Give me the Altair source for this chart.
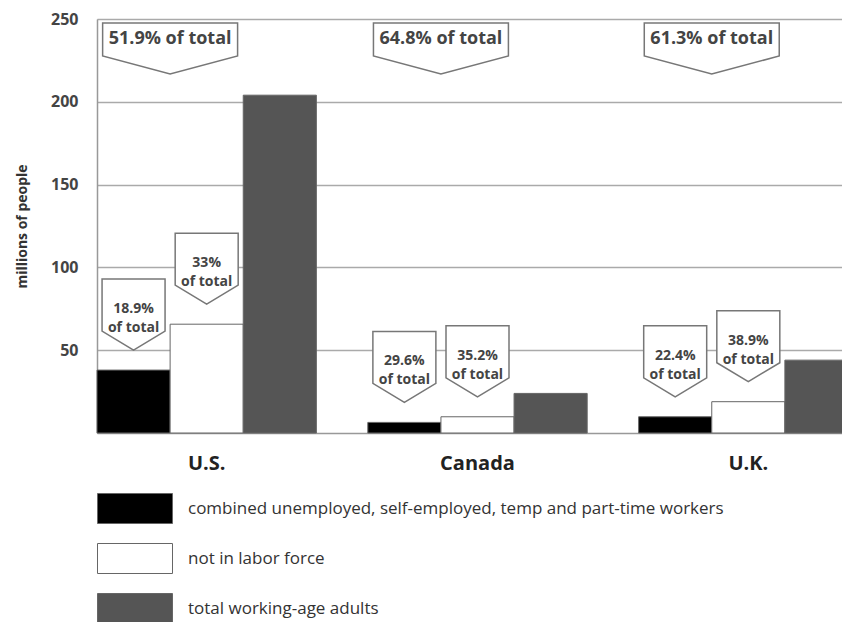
import altair as alt
import pandas as pd

countries = ["U.S.", "Canada", "U.K."]
series = [
    "combined unemployed, self-employed, temp and part-time workers",
    "not in labor force",
    "total working-age adults",
]
combined = [38, 6.4, 9.8]
not_in_labor_force = [65.7, 9.8, 18.9]
total_adults = [204, 23.9, 44]
share_combined = ["18.9%", "29.6%", "22.4%"]
share_not_in_lf = ["33%", "35.2%", "38.9%"]
share_total = ["51.9% of total", "64.8% of total", "61.3% of total"]
colors = ["#000000", "#ffffff", "#555555"]
y_ticks = [50, 100, 150, 200, 250]
y_max = 250

FONT = "Open Sans"

bars = pd.DataFrame(
    [
        {"country": c, "series": s, "value": v}
        for i, c in enumerate(countries)
        for s, v in zip(series, [combined[i], not_in_labor_force[i], total_adults[i]])
    ]
)

small = pd.DataFrame(
    [
        {"country": c, "series": series[0], "value": combined[i], "label": share_combined[i] + "\nof total"}
        for i, c in enumerate(countries)
    ]
    + [
        {"country": c, "series": series[1], "value": not_in_labor_force[i], "label": share_not_in_lf[i] + "\nof total"}
        for i, c in enumerate(countries)
    ]
)

top = pd.DataFrame({"country": countries, "label": share_total})

x_scale = alt.Scale(domain=countries, range=[0, 761], paddingInner=0.19, paddingOuter=0)
xo_scale = alt.Scale(domain=series, paddingInner=0, paddingOuter=0)
y_scale = alt.Scale(domain=[0, y_max], nice=False)

x_enc = alt.X(
    "country:N",
    scale=x_scale,
    sort=countries,
    axis=alt.Axis(
        title=None,
        labelAngle=0,
        ticks=False,
        domainColor="#999999",
        domainWidth=1.5,
        labelFont=FONT,
        labelFontSize=20,
        labelFontWeight="bold",
        labelColor="#222222",
        labelPadding=20,
    ),
)
y_enc = alt.Y(
    "value:Q",
    scale=y_scale,
    axis=alt.Axis(
        title="millions of people",
        values=y_ticks,
        ticks=False,
        domainColor="#999999",
        domainWidth=1.5,
        gridColor="#aaaaaa",
        gridWidth=1.5,
        labelFont=FONT,
        labelFontSize=16,
        labelFontWeight="bold",
        labelColor="#444444",
        labelPadding=19,
        titleFont=FONT,
        titleFontSize=14,
        titleFontWeight="bold",
        titleColor="#333333",
        titlePadding=21,
    ),
)

bar_layer = alt.Chart(bars).mark_bar(stroke="#666666", strokeWidth=1).encode(
    x=x_enc,
    xOffset=alt.XOffset("series:N", scale=xo_scale, sort=series),
    y=y_enc,
    color=alt.Color(
        "series:N",
        scale=alt.Scale(domain=series, range=colors),
        legend=alt.Legend(
            title=None,
            orient="none",
            legendX=0,
            legendY=474,
            symbolType="M-1,-1L4,-1L4,1L-1,1Z",
            symbolSize=900,
            symbolStrokeColor="#666666",
            symbolStrokeWidth=1,
            symbolOpacity=1,
            labelFont=FONT,
            labelFontSize=17,
            labelColor="#333333",
            labelOffset=60,
            labelLimit=800,
            rowPadding=15,
            padding=0,
        ),
    ),
)

small_path = "M0,-0.5L0.7875,-0.975L0.7875,-2.275L-0.7875,-2.275L-0.7875,-0.975Z"
small_shape = alt.Chart(small).mark_point(
    shape=small_path, size=6400, filled=True, fill="white", stroke="#777777",
    strokeWidth=1.5, opacity=1,
).encode(
    x=alt.X("country:N", scale=x_scale, sort=countries),
    xOffset=alt.XOffset("series:N", scale=xo_scale, sort=series),
    y=alt.Y("value:Q", scale=y_scale),
)
small_text = alt.Chart(small).mark_text(
    font=FONT, fontSize=14, fontWeight="bold", color="#444444",
    lineBreak="\n", lineHeight=19, baseline="middle", align="center", dy=-61,
).encode(
    x=alt.X("country:N", scale=x_scale, sort=countries),
    xOffset=alt.XOffset("series:N", scale=xo_scale, sort=series),
    y=alt.Y("value:Q", scale=y_scale),
    text="label:N",
)

top_path = "M-0.964,0.057L0.964,0.057L0.964,0.529L0,0.786L-0.964,0.529Z"
top_shape = alt.Chart(top).mark_point(
    shape=top_path, size=19600, filled=True, fill="white", stroke="#777777",
    strokeWidth=1.5, opacity=1,
).encode(
    x=alt.X("country:N", scale=x_scale, sort=countries, bandPosition=0.3333),
    y=alt.datum(y_max, scale=y_scale),
)
top_text = alt.Chart(top).mark_text(
    font=FONT, fontSize=18, fontWeight="bold", color="#444444",
    baseline="middle", align="center", dy=20,
).encode(
    x=alt.X("country:N", scale=x_scale, sort=countries, bandPosition=0.3333),
    y=alt.datum(y_max, scale=y_scale),
    text="label:N",
)

chart = (
    alt.layer(bar_layer, small_shape, small_text, top_shape, top_text)
    .properties(
        width=745,
        height=414,
        autosize=alt.AutoSizeParams(type="none"),
        padding={"left": 89, "top": 11, "right": 0, "bottom": 189},
    )
    .configure_view(stroke=None)
    .configure(background="white")
)

chart.save("out.html", embed_options={"renderer": "svg", "actions": False})
